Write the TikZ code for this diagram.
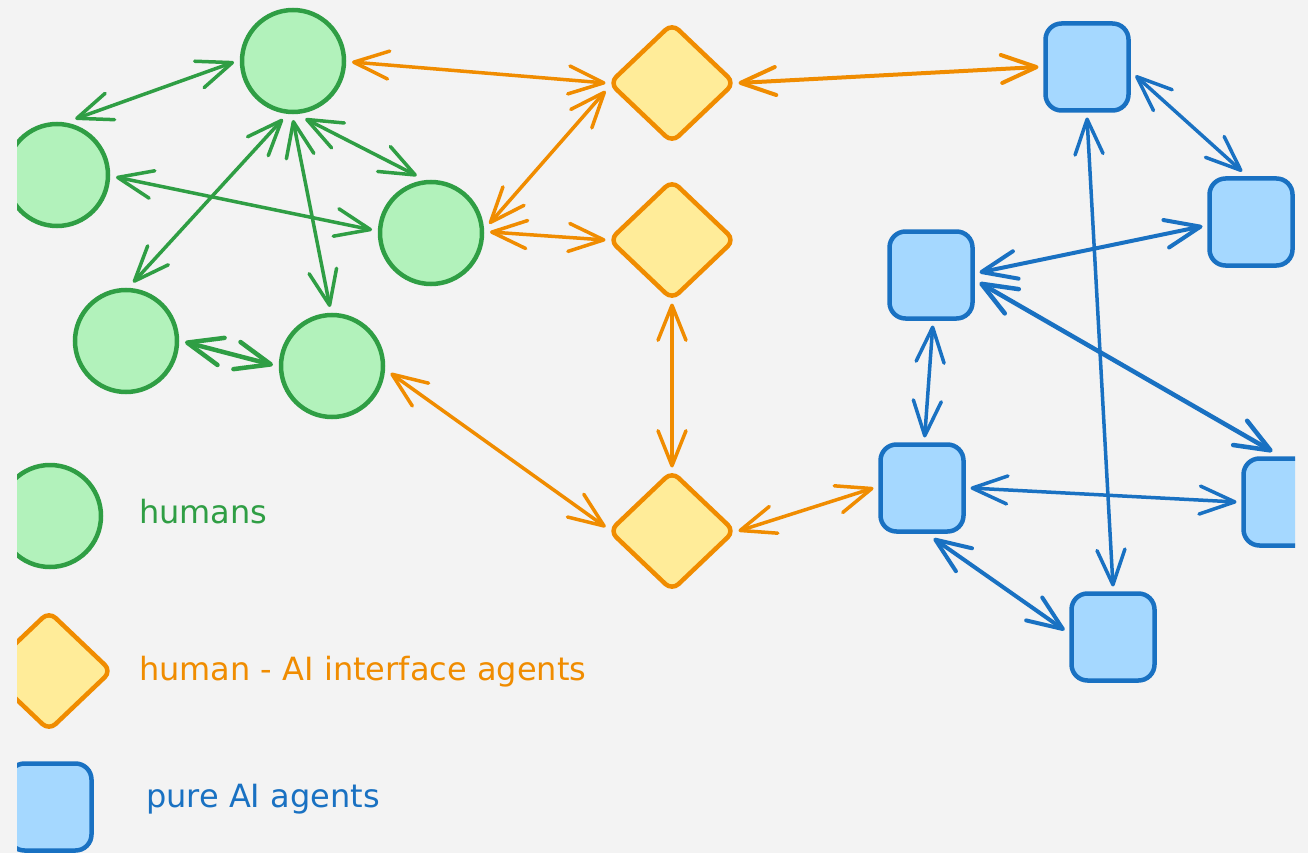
\documentclass[tikz,border=0pt]{standalone}
\usepackage{fontspec}
\setmainfont{DejaVu Sans}
\usetikzlibrary{arrows.meta,shapes.geometric}
\definecolor{bg}{HTML}{F3F3F3}
\definecolor{gstroke}{HTML}{2F9E44}
\definecolor{gfill}{HTML}{B2F2BB}
\definecolor{ostroke}{HTML}{F08C00}
\definecolor{ofill}{HTML}{FFEC99}
\definecolor{bstroke}{HTML}{1971C2}
\definecolor{bfill}{HTML}{A5D8FF}
\begin{document}
\begin{tikzpicture}[x=1pt,y=-1pt,
  >={Straight Barb[length=35pt,width=28pt,round]},
  human/.style={circle, draw=gstroke, fill=gfill, line width=4.5pt, minimum size=102pt, inner sep=0pt, outer sep=8pt},
  iface/.style={diamond, draw=ostroke, fill=ofill, line width=4.5pt, minimum width=127pt, minimum height=121pt, inner sep=0pt, rounded corners=9pt, outer sep=3pt},
  pureai/.style={rectangle, draw=bstroke, fill=bfill, line width=4.5pt, minimum width=83pt, minimum height=87pt, inner sep=0pt, rounded corners=16pt, outer sep=7pt},
  link/.style={line width=3.5pt, line cap=round, <->},
  glink/.style={link, draw=gstroke},
  olink/.style={link, draw=ostroke},
  blink/.style={link, draw=bstroke},
  legendtext/.style={anchor=base west, inner sep=0pt, font=\fontsize{32pt}{38pt}\selectfont}
]
\useasboundingbox (0,0) rectangle (1308,853);
\fill[bg] (0,0) rectangle (1308,853);
\begin{scope}
\clip (17,0) rectangle (1295,853);
% humans
\node[human] (C1) at (293,61) {};
\node[human] (C2) at (57,175) {};
\node[human] (C3) at (431,233) {};
\node[human] (C4) at (126,341) {};
\node[human] (C5) at (332,366) {};
% interface agents
\node[iface] (D1) at (672,83) {};
\node[iface] (D2) at (672,240) {};
\node[iface] (D3) at (672,531) {};
% pure AI agents
\node[pureai] (B1) at (1087,67) {};
\node[pureai] (B2) at (1251,222) {};
\node[pureai] (B3) at (931,275) {};
\node[pureai] (B4) at (922,488) {};
\node[pureai] (B5) at (1285,502) {};
\node[pureai] (B6) at (1113,637) {};
% legend shapes
\node[human] (LC) at (50,516) {};
\node[iface] (LD) at (49,671) {};
\node[pureai] (LB) at (50,807) {};
% green links
\draw[glink] (C1.181) -- (C2.72);
\draw[glink] (C1.260) -- (C4.83);
\draw[glink] (C1.270) -- (C5.92);
\draw[glink] (C1.282) -- (C3.104);
\draw[glink] (C2.-2) -- (C3.177);
\draw[glink, line width=4.5pt] (C4.-1) -- (C5.179);
% orange links
\draw[olink] (C1.-1) -- (D1.west);
\draw[olink] ([yshift=-8pt]D1.west) -- (C3.9);
\draw[olink] (C3.1) -- (D2.west);
\draw[olink, line width=4pt] (D1.east) -- (B1.west);
\draw[olink] (D2.south) -- (D3.north);
\draw[olink] (C5.-7) -- ([yshift=4pt]D3.west);
\draw[olink] (D3.east) -- (B4.west);
% blue links
\draw[blink] (B1.-10) -- (B2.100);
\draw[blink] (B1.south) -- (B6.north);
\draw[blink, line width=4pt] (B3.3) -- (B2.185);
\draw[blink, line width=4.5pt] (B3.-9) -- (B5.104);
\draw[blink] (B3.272) -- (B4.87);
\draw[blink] (B4.east) -- (B5.west);
\draw[blink, line width=4pt] (B4.-77) -- (B6.172);
\end{scope}
% legend texts
\node[legendtext, text=gstroke] (Thum) at (139,523) {humans};
\node[legendtext, text=ostroke] (Tint) at (139,680) {human - AI interface agents};
\node[legendtext, text=bstroke] (Tpure) at (146,807) {pure AI agents};
\end{tikzpicture}
\end{document}
